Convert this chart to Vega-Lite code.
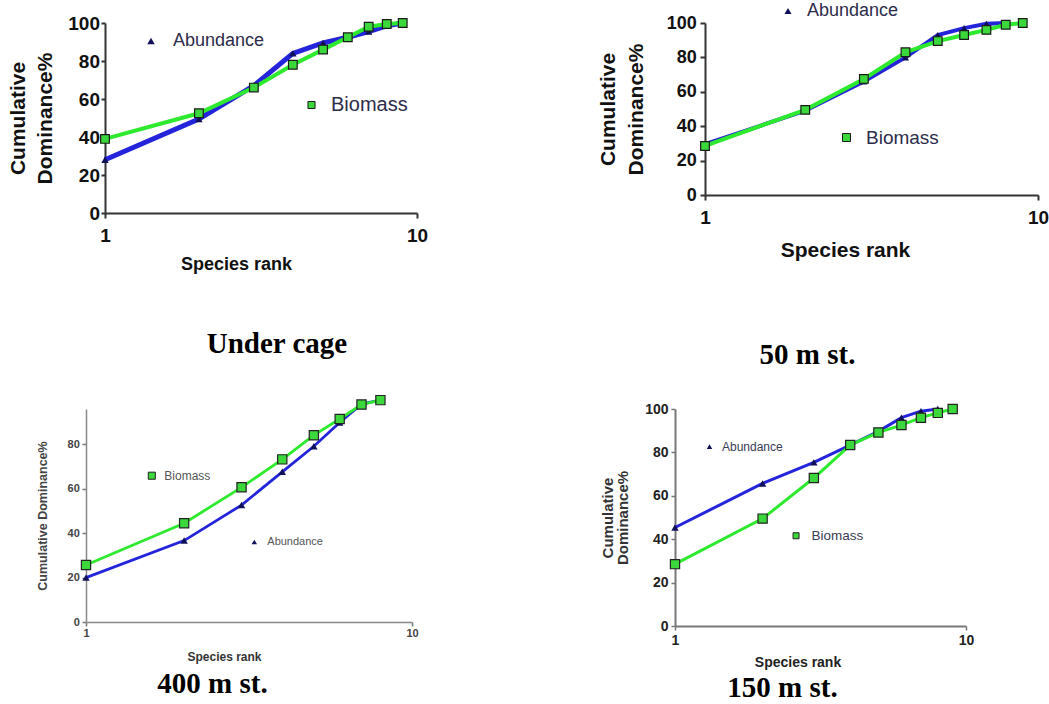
{
  "$schema": "https://vega.github.io/schema/vega-lite/v6.json",
  "background": "white",
  "padding": {"left": 7, "top": 2, "right": 5, "bottom": 5},
  "autosize": {"type": "pad"},
  "config": {"view": {"stroke": null}, "font": "Liberation Sans"},
  "datasets": {
    "cage": [
      {"series": "Abundance", "rank": 1, "pct": 28},
      {"series": "Abundance", "rank": 2, "pct": 49.5},
      {"series": "Abundance", "rank": 3, "pct": 67},
      {"series": "Abundance", "rank": 4, "pct": 84},
      {"series": "Abundance", "rank": 5, "pct": 89.5},
      {"series": "Abundance", "rank": 6, "pct": 92.5},
      {"series": "Abundance", "rank": 7, "pct": 95.5},
      {"series": "Abundance", "rank": 8, "pct": 98.5},
      {"series": "Abundance", "rank": 9, "pct": 100},
      {"series": "Biomass", "rank": 1, "pct": 39},
      {"series": "Biomass", "rank": 2, "pct": 52.5},
      {"series": "Biomass", "rank": 3, "pct": 66},
      {"series": "Biomass", "rank": 4, "pct": 78},
      {"series": "Biomass", "rank": 5, "pct": 86},
      {"series": "Biomass", "rank": 6, "pct": 92.5},
      {"series": "Biomass", "rank": 7, "pct": 98},
      {"series": "Biomass", "rank": 8, "pct": 99.5},
      {"series": "Biomass", "rank": 9, "pct": 100}
    ],
    "st50": [
      {"series": "Abundance", "rank": 1, "pct": 29.5},
      {"series": "Abundance", "rank": 2, "pct": 49},
      {"series": "Abundance", "rank": 3, "pct": 66},
      {"series": "Abundance", "rank": 4, "pct": 80},
      {"series": "Abundance", "rank": 5, "pct": 93},
      {"series": "Abundance", "rank": 6, "pct": 97},
      {"series": "Abundance", "rank": 7, "pct": 99.5},
      {"series": "Abundance", "rank": 8, "pct": 100},
      {"series": "Biomass", "rank": 1, "pct": 28.5},
      {"series": "Biomass", "rank": 2, "pct": 49.5},
      {"series": "Biomass", "rank": 3, "pct": 67.5},
      {"series": "Biomass", "rank": 4, "pct": 83},
      {"series": "Biomass", "rank": 5, "pct": 89.5},
      {"series": "Biomass", "rank": 6, "pct": 93},
      {"series": "Biomass", "rank": 7, "pct": 96},
      {"series": "Biomass", "rank": 8, "pct": 99},
      {"series": "Biomass", "rank": 9, "pct": 100}
    ],
    "st400": [
      {"series": "Abundance", "rank": 1, "pct": 20},
      {"series": "Abundance", "rank": 2, "pct": 36.7},
      {"series": "Abundance", "rank": 3, "pct": 52.7},
      {"series": "Abundance", "rank": 4, "pct": 67.7},
      {"series": "Abundance", "rank": 5, "pct": 79.2},
      {"series": "Abundance", "rank": 6, "pct": 89.9},
      {"series": "Abundance", "rank": 7, "pct": 98.2},
      {"series": "Abundance", "rank": 8, "pct": 100},
      {"series": "Biomass", "rank": 1, "pct": 25.7},
      {"series": "Biomass", "rank": 2, "pct": 44.5},
      {"series": "Biomass", "rank": 3, "pct": 60.7},
      {"series": "Biomass", "rank": 4, "pct": 73.3},
      {"series": "Biomass", "rank": 5, "pct": 84.2},
      {"series": "Biomass", "rank": 6, "pct": 91.5},
      {"series": "Biomass", "rank": 7, "pct": 98},
      {"series": "Biomass", "rank": 8, "pct": 100}
    ],
    "st150": [
      {"series": "Abundance", "rank": 1, "pct": 45.4},
      {"series": "Abundance", "rank": 2, "pct": 65.7},
      {"series": "Abundance", "rank": 3, "pct": 75.4},
      {"series": "Abundance", "rank": 4, "pct": 83.4},
      {"series": "Abundance", "rank": 5, "pct": 89.7},
      {"series": "Abundance", "rank": 6, "pct": 96},
      {"series": "Abundance", "rank": 7, "pct": 99},
      {"series": "Abundance", "rank": 8, "pct": 100},
      {"series": "Biomass", "rank": 1, "pct": 28.5},
      {"series": "Biomass", "rank": 2, "pct": 49.5},
      {"series": "Biomass", "rank": 3, "pct": 68.2},
      {"series": "Biomass", "rank": 4, "pct": 83.4},
      {"series": "Biomass", "rank": 5, "pct": 89.2},
      {"series": "Biomass", "rank": 6, "pct": 92.6},
      {"series": "Biomass", "rank": 7, "pct": 96},
      {"series": "Biomass", "rank": 8, "pct": 98.2},
      {"series": "Biomass", "rank": 9, "pct": 100}
    ]
  },
  "columns": 2,
  "bounds": "flush",
  "spacing": {"row": 196, "column": 258},
  "resolve": {
    "scale": {"shape": "independent", "fill": "independent"},
    "legend": {"shape": "independent", "fill": "independent"}
  },
  "concat": [
    {
      "width": 331,
      "height": 190,
      "data": {"name": "cage"},
      "title": {"text": "Under cage", "orient": "bottom", "frame": "group", "anchor": "middle", "dx": 25.5, "offset": 57, "font": "Liberation Serif", "fontSize": 29, "fontWeight": "bold", "color": "#000"},
      "encoding": {
        "x": {"field": "rank", "type": "quantitative",
          "scale": {"type": "log", "domain": [1, 10], "range": [19, 331], "nice": false},
          "axis": {"values": [1, 10], "format": "d", "grid": false, "title": "Species rank", "titleX": 150,
            "titleFont": "Liberation Sans", "titleFontSize": 18, "titleFontWeight": "bold", "titleColor": "#111", "titlePadding": 10,
            "labelFont": "Liberation Sans", "labelFontSize": 19, "labelFontWeight": "bold", "labelColor": "#111", "labelPadding": 8, "labelFlush": false,
            "tickSize": 5, "tickWidth": 2, "tickColor": "#333", "domainColor": "#333", "domainWidth": 2}},
        "y": {"field": "pct", "type": "quantitative",
          "scale": {"domain": [0, 100], "nice": false},
          "axis": {"values": [0, 20, 40, 60, 80, 100], "grid": false, "offset": -19, "title": ["Cumulative", "Dominance%"],
            "titleFont": "Liberation Sans", "titleFontSize": 21, "titleFontWeight": "bold", "titleColor": "#111", "titleLineHeight": 27, "titlePadding": 12,
            "labelFont": "Liberation Sans", "labelFontSize": 19, "labelFontWeight": "bold", "labelColor": "#111", "labelPadding": 1.5,
            "tickSize": 4, "tickWidth": 2, "tickColor": "#333", "domainColor": "#333", "domainWidth": 2}}
      },
      "layer": [
        {"transform": [{"filter": "datum.series === 'Abundance'"}], "mark": {"type": "line", "color": "#2424db", "strokeWidth": 5}},
        {"transform": [{"filter": "datum.series === 'Biomass'"}], "mark": {"type": "line", "color": "#2eea2e", "strokeWidth": 4}},
        {"transform": [{"filter": "datum.series === 'Abundance'"}],
          "mark": {"type": "point", "filled": true, "opacity": 1, "color": "#10105a", "size": 55},
          "encoding": {"shape": {"field": "series", "type": "nominal", "scale": {"domain": ["Abundance"], "range": ["triangle-up"]},
            "legend": {"orient": "none", "legendX": 56, "legendY": 9, "title": null, "padding": 0, "symbolSize": 55, "symbolFillColor": "#10105a", "symbolStrokeWidth": 0, "symbolOpacity": 1,
              "labelFont": "Liberation Sans", "labelFontSize": 18, "labelColor": "#2c2c4c", "labelOffset": 13}}}},
        {"transform": [{"filter": "datum.series === 'Biomass'"}],
          "mark": {"type": "point", "shape": "square", "filled": true, "opacity": 1, "stroke": "#1a1a1a", "strokeWidth": 1.2, "size": 75},
          "encoding": {"fill": {"field": "series", "type": "nominal", "scale": {"domain": ["Biomass"], "range": ["#3ad83a"]},
            "legend": {"orient": "none", "legendX": 215.5, "legendY": 72, "title": null, "padding": 0, "symbolType": "square", "symbolSize": 50, "symbolStrokeColor": "#1a1a1a", "symbolStrokeWidth": 1, "symbolOpacity": 1,
              "labelFont": "Liberation Sans", "labelFontSize": 20, "labelColor": "#2c2c4c", "labelOffset": 9.5}}}}
      ]
    },
    {
      "width": 363,
      "height": 172,
      "data": {"name": "st50"},
      "title": {"text": "50 m st.", "orient": "bottom", "frame": "group", "anchor": "middle", "dx": -49, "offset": 81, "font": "Liberation Serif", "fontSize": 29, "fontWeight": "bold", "color": "#000"},
      "encoding": {
        "x": {"field": "rank", "type": "quantitative",
          "scale": {"type": "log", "domain": [1, 10], "range": [30, 363], "nice": false},
          "axis": {"values": [1, 10], "format": "d", "grid": false, "title": "Species rank", "titleX": 170,
            "titleFont": "Liberation Sans", "titleFontSize": 21, "titleFontWeight": "bold", "titleColor": "#111", "titlePadding": 12,
            "labelFont": "Liberation Sans", "labelFontSize": 19, "labelFontWeight": "bold", "labelColor": "#111", "labelPadding": 8, "labelFlush": false,
            "tickSize": 5, "tickWidth": 2, "tickColor": "#333", "domainColor": "#333", "domainWidth": 2}},
        "y": {"field": "pct", "type": "quantitative",
          "scale": {"domain": [0, 100], "nice": false},
          "axis": {"values": [0, 20, 40, 60, 80, 100], "grid": false, "offset": -30, "title": ["Cumulative", "Dominance%"],
            "titleFont": "Liberation Sans", "titleFontSize": 21, "titleFontWeight": "bold", "titleColor": "#111", "titleLineHeight": 28, "titlePadding": 20,
            "labelFont": "Liberation Sans", "labelFontSize": 18, "labelFontWeight": "bold", "labelColor": "#111", "labelPadding": 3.7,
            "tickSize": 5, "tickWidth": 2, "tickColor": "#333", "domainColor": "#333", "domainWidth": 2}}
      },
      "layer": [
        {"transform": [{"filter": "datum.series === 'Abundance'"}], "mark": {"type": "line", "color": "#2424db", "strokeWidth": 4}},
        {"transform": [{"filter": "datum.series === 'Biomass'"}], "mark": {"type": "line", "color": "#2eea2e", "strokeWidth": 4}},
        {"transform": [{"filter": "datum.series === 'Abundance'"}],
          "mark": {"type": "point", "filled": true, "opacity": 1, "color": "#10105a", "size": 50},
          "encoding": {"shape": {"field": "series", "type": "nominal", "scale": {"domain": ["Abundance"], "range": ["triangle-up"]},
            "legend": {"orient": "none", "legendX": 104, "legendY": -21, "title": null, "padding": 0, "symbolSize": 50, "symbolFillColor": "#10105a", "symbolStrokeWidth": 0, "symbolOpacity": 1,
              "labelFont": "Liberation Sans", "labelFontSize": 18, "labelColor": "#2c2c4c", "labelOffset": 10}}}},
        {"transform": [{"filter": "datum.series === 'Biomass'"}],
          "mark": {"type": "point", "shape": "square", "filled": true, "opacity": 1, "stroke": "#1a1a1a", "strokeWidth": 1.2, "size": 75},
          "encoding": {"fill": {"field": "series", "type": "nominal", "scale": {"domain": ["Biomass"], "range": ["#3ad83a"]},
            "legend": {"orient": "none", "legendX": 162, "legendY": 105, "title": null, "padding": 0, "symbolType": "square", "symbolSize": 64, "symbolStrokeColor": "#1a1a1a", "symbolStrokeWidth": 1, "symbolOpacity": 1,
              "labelFont": "Liberation Sans", "labelFontSize": 19, "labelColor": "#2c2c4c", "labelOffset": 10}}}}
      ]
    },
    {
      "width": 326,
      "height": 213,
      "data": {"name": "st400"},
      "title": {"text": "400 m st.", "orient": "bottom", "frame": "group", "anchor": "middle", "dx": -36.5, "offset": 8, "font": "Liberation Serif", "fontSize": 29, "fontWeight": "bold", "color": "#000"},
      "encoding": {
        "x": {"field": "rank", "type": "quantitative",
          "scale": {"type": "log", "domain": [1, 10], "nice": false},
          "axis": {"values": [1, 10], "format": "d", "grid": false, "title": "Species rank", "titleX": 138,
            "titleFont": "Liberation Sans", "titleFontSize": 12, "titleFontWeight": "bold", "titleColor": "#333", "titlePadding": 13,
            "labelFont": "Liberation Sans", "labelFontSize": 11, "labelFontWeight": "bold", "labelColor": "#444", "labelPadding": 1, "labelFlush": false,
            "tickSize": 4, "tickWidth": 1.5, "tickColor": "#777", "domainColor": "#888", "domainWidth": 1.5}},
        "y": {"field": "pct", "type": "quantitative",
          "scale": {"domain": [0, 96], "nice": false},
          "axis": {"values": [0, 20, 40, 60, 80], "grid": false, "title": "Cumulative Dominance%",
            "titleFont": "Liberation Sans", "titleFontSize": 12.5, "titleFontWeight": "bold", "titleColor": "#444", "titlePadding": 17.5,
            "labelFont": "Liberation Sans", "labelFontSize": 11, "labelFontWeight": "bold", "labelColor": "#444", "labelPadding": 2.7,
            "tickSize": 4, "tickWidth": 1.5, "tickColor": "#777", "domainColor": "#888", "domainWidth": 1.5}}
      },
      "layer": [
        {"transform": [{"filter": "datum.series === 'Abundance'"}], "mark": {"type": "line", "color": "#2424db", "strokeWidth": 2.8}},
        {"transform": [{"filter": "datum.series === 'Biomass'"}], "mark": {"type": "line", "color": "#2eea2e", "strokeWidth": 2.8}},
        {"transform": [{"filter": "datum.series === 'Abundance'"}],
          "mark": {"type": "point", "filled": true, "opacity": 1, "color": "#10105a", "size": 55},
          "encoding": {"shape": {"field": "series", "type": "nominal", "scale": {"domain": ["Abundance"], "range": ["triangle-up"]},
            "legend": {"orient": "none", "legendX": 162.8, "legendY": 127.5, "title": null, "padding": 0, "symbolSize": 30, "symbolFillColor": "#10105a", "symbolStrokeWidth": 0, "symbolOpacity": 1,
              "labelFont": "Liberation Sans", "labelFontSize": 11, "labelColor": "#555", "labelOffset": 7.5}}}},
        {"transform": [{"filter": "datum.series === 'Biomass'"}],
          "mark": {"type": "point", "shape": "square", "filled": true, "opacity": 1, "stroke": "#222", "strokeWidth": 1.2, "size": 85},
          "encoding": {"fill": {"field": "series", "type": "nominal", "scale": {"domain": ["Biomass"], "range": ["#3ad83a"]},
            "legend": {"orient": "none", "legendX": 59.8, "legendY": 60.7, "title": null, "padding": 0, "symbolType": "square", "symbolSize": 50, "symbolStrokeColor": "#222", "symbolStrokeWidth": 1, "symbolOpacity": 1,
              "labelFont": "Liberation Sans", "labelFontSize": 12, "labelColor": "#555", "labelOffset": 6.5}}}}
      ]
    },
    {
      "width": 291,
      "height": 217,
      "data": {"name": "st150"},
      "title": {"text": "150 m st.", "orient": "bottom", "frame": "group", "anchor": "middle", "dx": -38, "offset": 4.5, "font": "Liberation Serif", "fontSize": 29, "fontWeight": "bold", "color": "#000"},
      "encoding": {
        "x": {"field": "rank", "type": "quantitative",
          "scale": {"type": "log", "domain": [1, 10], "nice": false},
          "axis": {"values": [1, 10], "format": "d", "grid": false, "title": "Species rank", "titleX": 122.5,
            "titleFont": "Liberation Sans", "titleFontSize": 14, "titleFontWeight": "bold", "titleColor": "#222", "titlePadding": 8,
            "labelFont": "Liberation Sans", "labelFontSize": 14, "labelFontWeight": "bold", "labelColor": "#222", "labelPadding": 3, "labelFlush": false,
            "tickSize": 4, "tickWidth": 1.5, "tickColor": "#777", "domainColor": "#777", "domainWidth": 2}},
        "y": {"field": "pct", "type": "quantitative",
          "scale": {"domain": [0, 100], "nice": false},
          "axis": {"values": [0, 20, 40, 60, 80, 100], "grid": false, "title": ["Cumulative", "Dominance%"],
            "titleFont": "Liberation Sans", "titleFontSize": 15, "titleFontWeight": "bold", "titleColor": "#333", "titleLineHeight": 15, "titlePadding": 14.6,
            "labelFont": "Liberation Sans", "labelFontSize": 14, "labelFontWeight": "bold", "labelColor": "#222", "labelPadding": 3,
            "tickSize": 4, "tickWidth": 1.5, "tickColor": "#777", "domainColor": "#777", "domainWidth": 2}}
      },
      "layer": [
        {"transform": [{"filter": "datum.series === 'Abundance'"}], "mark": {"type": "line", "color": "#2424db", "strokeWidth": 3}},
        {"transform": [{"filter": "datum.series === 'Biomass'"}], "mark": {"type": "line", "color": "#2eea2e", "strokeWidth": 3}},
        {"transform": [{"filter": "datum.series === 'Abundance'"}],
          "mark": {"type": "point", "filled": true, "opacity": 1, "color": "#10105a", "size": 55},
          "encoding": {"shape": {"field": "series", "type": "nominal", "scale": {"domain": ["Abundance"], "range": ["triangle-up"]},
            "legend": {"orient": "none", "legendX": 28.5, "legendY": 31.7, "title": null, "padding": 0, "symbolSize": 30, "symbolFillColor": "#10105a", "symbolStrokeWidth": 0, "symbolOpacity": 1,
              "labelFont": "Liberation Sans", "labelFontSize": 12, "labelColor": "#3a3a55", "labelOffset": 6.5}}}},
        {"transform": [{"filter": "datum.series === 'Biomass'"}],
          "mark": {"type": "point", "shape": "square", "filled": true, "opacity": 1, "stroke": "#222", "strokeWidth": 1.2, "size": 85},
          "encoding": {"fill": {"field": "series", "type": "nominal", "scale": {"domain": ["Biomass"], "range": ["#3ad83a"]},
            "legend": {"orient": "none", "legendX": 114.3, "legendY": 120, "title": null, "padding": 0, "symbolType": "square", "symbolSize": 36, "symbolStrokeColor": "#222", "symbolStrokeWidth": 1, "symbolOpacity": 1,
              "labelFont": "Liberation Sans", "labelFontSize": 13.5, "labelColor": "#3a3a55", "labelOffset": 8.7}}}}
      ]
    }
  ]
}
